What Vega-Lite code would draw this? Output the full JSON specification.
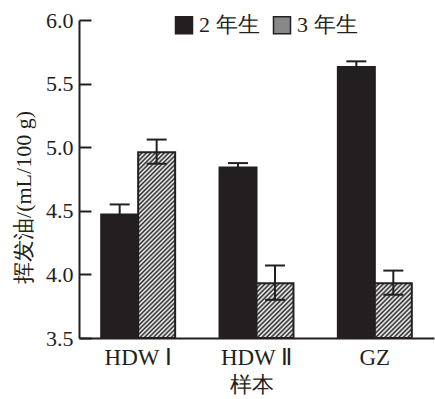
{
  "$schema": "https://vega.github.io/schema/vega-lite/v6.json",
  "autosize": {"type": "none"},
  "padding": {"left": 79, "top": 20, "right": 1, "bottom": 61},
  "width": 355,
  "height": 318,
  "background": "white",
  "config": {
    "view": {"stroke": null},
    "font": "Liberation Serif",
    "axisX": {"domainColor": "#231f20", "domainWidth": 2, "ticks": false, "labelFont": "Liberation Serif", "labelFontSize": 23, "labelPadding": 8, "labelColor": "#231f20", "labelAngle": 0, "titleFont": "Liberation Serif", "titleFontSize": 22, "titleFontWeight": "normal", "titleColor": "#231f20", "titleX": 172, "titleY": 46, "titleBaseline": "middle", "titleAlign": "center"},
    "axisY": {"domainColor": "#231f20", "domainWidth": 2, "tickColor": "#231f20", "tickWidth": 2, "grid": false, "labelFont": "Liberation Serif", "labelFontSize": 22, "labelColor": "#231f20", "titleFont": "Liberation Serif", "titleFontSize": 22, "titleFontWeight": "normal", "titleColor": "#231f20", "titleX": -56, "titleY": 177, "titleAlign": "center", "titleBaseline": "middle", "titleAngle": -90},
    "legend": {"labelFont": "Liberation Serif"}
  },
  "data": {"values": [
    {"cat": "HDW Ⅰ", "year": "2 年生", "value": 4.47, "lo": 4.39, "hi": 4.55},
    {"cat": "HDW Ⅰ", "year": "3 年生", "value": 4.96, "lo": 4.87, "hi": 5.06},
    {"cat": "HDW Ⅱ", "year": "2 年生", "value": 4.84, "lo": 4.8, "hi": 4.875},
    {"cat": "HDW Ⅱ", "year": "3 年生", "value": 3.93, "lo": 3.8, "hi": 4.07},
    {"cat": "GZ", "year": "2 年生", "value": 5.63, "lo": 5.59, "hi": 5.675},
    {"cat": "GZ", "year": "3 年生", "value": 3.93, "lo": 3.84, "hi": 4.03}
  ]},
  "encoding": {
    "x": {"field": "cat", "type": "nominal", "sort": ["HDW Ⅰ", "HDW Ⅱ", "GZ"], "scale": {"paddingInner": 0.375, "paddingOuter": 0.1875}, "title": "样本"},
    "xOffset": {"field": "year", "type": "nominal", "sort": ["2 年生", "3 年生"], "scale": {"paddingInner": 0, "paddingOuter": 0}}
  },
  "layer": [
    {
      "mark": {"type": "bar", "stroke": "#231f20", "strokeWidth": 2},
      "encoding": {
        "y": {"field": "value", "type": "quantitative", "title": "挥发油/(mL/100 g)", "scale": {"domain": [3.5, 6], "zero": false, "nice": false},
          "axis": {"values": [3.5, 3.75, 4, 4.25, 4.5, 4.75, 5, 5.25, 5.5, 5.75, 6], "labelExpr": "(datum.value*2)%1===0 ? format(datum.value,'.1f') : ''", "tickSize": {"condition": {"test": "(datum.value*2)%1!==0", "value": -8}, "value": -12}, "labelPadding": 18}},
        "y2": {"datum": 3.5},
        "fill": {
          "condition": [
            {"test": "datum.cat === 'HDW Ⅰ' && datum.year === '3 年生'", "value": {"gradient": "linear", "x1": 0, "y1": 0, "x2": 0.229, "y2": 1.153, "stops": [
              {"offset": 0, "color": "#222"},{"offset": 0.01, "color": "#fff"},{"offset": 0.02, "color": "#222"},{"offset": 0.03, "color": "#fff"},{"offset": 0.04, "color": "#222"},{"offset": 0.05, "color": "#fff"},{"offset": 0.06, "color": "#222"},{"offset": 0.07, "color": "#fff"},{"offset": 0.08, "color": "#222"},{"offset": 0.09, "color": "#fff"},
              {"offset": 0.1, "color": "#222"},{"offset": 0.11, "color": "#fff"},{"offset": 0.12, "color": "#222"},{"offset": 0.13, "color": "#fff"},{"offset": 0.14, "color": "#222"},{"offset": 0.15, "color": "#fff"},{"offset": 0.16, "color": "#222"},{"offset": 0.17, "color": "#fff"},{"offset": 0.18, "color": "#222"},{"offset": 0.19, "color": "#fff"},
              {"offset": 0.2, "color": "#222"},{"offset": 0.21, "color": "#fff"},{"offset": 0.22, "color": "#222"},{"offset": 0.23, "color": "#fff"},{"offset": 0.24, "color": "#222"},{"offset": 0.25, "color": "#fff"},{"offset": 0.26, "color": "#222"},{"offset": 0.27, "color": "#fff"},{"offset": 0.28, "color": "#222"},{"offset": 0.29, "color": "#fff"},
              {"offset": 0.3, "color": "#222"},{"offset": 0.31, "color": "#fff"},{"offset": 0.32, "color": "#222"},{"offset": 0.33, "color": "#fff"},{"offset": 0.34, "color": "#222"},{"offset": 0.35, "color": "#fff"},{"offset": 0.36, "color": "#222"},{"offset": 0.37, "color": "#fff"},{"offset": 0.38, "color": "#222"},{"offset": 0.39, "color": "#fff"},
              {"offset": 0.4, "color": "#222"},{"offset": 0.41, "color": "#fff"},{"offset": 0.42, "color": "#222"},{"offset": 0.43, "color": "#fff"},{"offset": 0.44, "color": "#222"},{"offset": 0.45, "color": "#fff"},{"offset": 0.46, "color": "#222"},{"offset": 0.47, "color": "#fff"},{"offset": 0.48, "color": "#222"},{"offset": 0.49, "color": "#fff"},
              {"offset": 0.5, "color": "#222"},{"offset": 0.51, "color": "#fff"},{"offset": 0.52, "color": "#222"},{"offset": 0.53, "color": "#fff"},{"offset": 0.54, "color": "#222"},{"offset": 0.55, "color": "#fff"},{"offset": 0.56, "color": "#222"},{"offset": 0.57, "color": "#fff"},{"offset": 0.58, "color": "#222"},{"offset": 0.59, "color": "#fff"},
              {"offset": 0.6, "color": "#222"},{"offset": 0.61, "color": "#fff"},{"offset": 0.62, "color": "#222"},{"offset": 0.63, "color": "#fff"},{"offset": 0.64, "color": "#222"},{"offset": 0.65, "color": "#fff"},{"offset": 0.66, "color": "#222"},{"offset": 0.67, "color": "#fff"},{"offset": 0.68, "color": "#222"},{"offset": 0.69, "color": "#fff"},
              {"offset": 0.7, "color": "#222"},{"offset": 0.71, "color": "#fff"},{"offset": 0.72, "color": "#222"},{"offset": 0.73, "color": "#fff"},{"offset": 0.74, "color": "#222"},{"offset": 0.75, "color": "#fff"},{"offset": 0.76, "color": "#222"},{"offset": 0.77, "color": "#fff"},{"offset": 0.78, "color": "#222"},{"offset": 0.79, "color": "#fff"},
              {"offset": 0.8, "color": "#222"},{"offset": 0.81, "color": "#fff"},{"offset": 0.82, "color": "#222"},{"offset": 0.83, "color": "#fff"},{"offset": 0.84, "color": "#222"},{"offset": 0.85, "color": "#fff"},{"offset": 0.86, "color": "#222"},{"offset": 0.87, "color": "#fff"},{"offset": 0.88, "color": "#222"},{"offset": 0.89, "color": "#fff"},
              {"offset": 0.9, "color": "#222"},{"offset": 0.91, "color": "#fff"},{"offset": 0.92, "color": "#222"},{"offset": 0.93, "color": "#fff"},{"offset": 0.94, "color": "#222"},{"offset": 0.95, "color": "#fff"},{"offset": 0.96, "color": "#222"},{"offset": 0.97, "color": "#fff"},{"offset": 0.98, "color": "#222"},{"offset": 0.99, "color": "#fff"},
              {"offset": 1, "color": "#222"}]}},
            {"test": "datum.year === '3 年生'", "value": {"gradient": "linear", "x1": 0, "y1": 0, "x2": 0.778, "y2": 1.15, "stops": [
              {"offset": 0, "color": "#222"},{"offset": 0.025, "color": "#fff"},{"offset": 0.05, "color": "#222"},{"offset": 0.075, "color": "#fff"},{"offset": 0.1, "color": "#222"},{"offset": 0.125, "color": "#fff"},{"offset": 0.15, "color": "#222"},{"offset": 0.175, "color": "#fff"},
              {"offset": 0.2, "color": "#222"},{"offset": 0.225, "color": "#fff"},{"offset": 0.25, "color": "#222"},{"offset": 0.275, "color": "#fff"},{"offset": 0.3, "color": "#222"},{"offset": 0.325, "color": "#fff"},{"offset": 0.35, "color": "#222"},{"offset": 0.375, "color": "#fff"},
              {"offset": 0.4, "color": "#222"},{"offset": 0.425, "color": "#fff"},{"offset": 0.45, "color": "#222"},{"offset": 0.475, "color": "#fff"},{"offset": 0.5, "color": "#222"},{"offset": 0.525, "color": "#fff"},{"offset": 0.55, "color": "#222"},{"offset": 0.575, "color": "#fff"},
              {"offset": 0.6, "color": "#222"},{"offset": 0.625, "color": "#fff"},{"offset": 0.65, "color": "#222"},{"offset": 0.675, "color": "#fff"},{"offset": 0.7, "color": "#222"},{"offset": 0.725, "color": "#fff"},{"offset": 0.75, "color": "#222"},{"offset": 0.775, "color": "#fff"},
              {"offset": 0.8, "color": "#222"},{"offset": 0.825, "color": "#fff"},{"offset": 0.85, "color": "#222"},{"offset": 0.875, "color": "#fff"},{"offset": 0.9, "color": "#222"},{"offset": 0.925, "color": "#fff"},{"offset": 0.95, "color": "#222"},{"offset": 0.975, "color": "#fff"},
              {"offset": 1, "color": "#222"}]}}
          ],
          "field": "year", "type": "nominal",
          "scale": {"domain": ["2 年生", "3 年生"], "range": ["#231f20", "#888888"]},
          "legend": {
            "orient": "none", "legendX": 94, "legendY": -6, "direction": "horizontal", "columns": 2, "title": null,
            "symbolType": "square", "symbolSize": 289, "labelFont": "Liberation Serif", "labelFontSize": 22, "labelOffset": 4, "columnPadding": 10, "labelColor": "#231f20",
            "encode": {"symbols": {
              "fill": {"condition": {"test": "datum.value === '3 年生'", "value": {"gradient": "linear", "x1": 0, "y1": 0, "x2": 1, "y2": 1, "stops": [
                {"offset": 0, "color": "#222"},{"offset": 0.05, "color": "#fff"},{"offset": 0.1, "color": "#222"},{"offset": 0.15, "color": "#fff"},{"offset": 0.2, "color": "#222"},{"offset": 0.25, "color": "#fff"},{"offset": 0.3, "color": "#222"},{"offset": 0.35, "color": "#fff"},{"offset": 0.4, "color": "#222"},{"offset": 0.45, "color": "#fff"},
                {"offset": 0.5, "color": "#222"},{"offset": 0.55, "color": "#fff"},{"offset": 0.6, "color": "#222"},{"offset": 0.65, "color": "#fff"},{"offset": 0.7, "color": "#222"},{"offset": 0.75, "color": "#fff"},{"offset": 0.8, "color": "#222"},{"offset": 0.85, "color": "#fff"},{"offset": 0.9, "color": "#222"},{"offset": 0.95, "color": "#fff"},
                {"offset": 1, "color": "#222"}]}}, "value": "#231f20"},
              "stroke": {"value": "#231f20"},
              "strokeWidth": {"value": 2},
              "opacity": {"value": 1}
            }}
          }
        }
      }
    },
    {
      "mark": {"type": "rule", "color": "#231f20", "strokeWidth": 2},
      "encoding": {
        "y": {"field": "lo", "type": "quantitative", "title": "挥发油/(mL/100 g)"},
        "y2": {"field": "hi"}
      }
    },
    {
      "mark": {"type": "tick", "color": "#231f20", "thickness": 2, "size": 20, "opacity": 1},
      "encoding": {"y": {"field": "hi", "type": "quantitative", "title": "挥发油/(mL/100 g)"}}
    },
    {
      "mark": {"type": "tick", "color": "#231f20", "thickness": 2, "size": 20, "opacity": 1},
      "encoding": {"y": {"field": "lo", "type": "quantitative", "title": "挥发油/(mL/100 g)"}}
    }
  ]
}
